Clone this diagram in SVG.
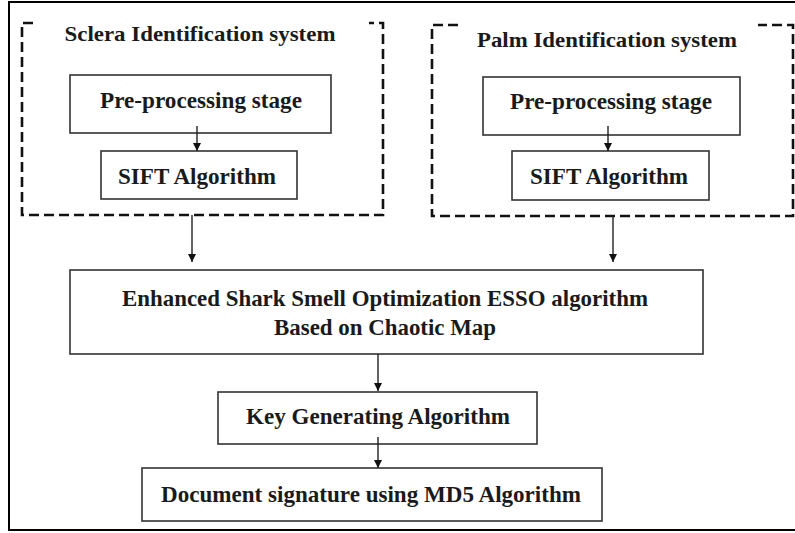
<svg xmlns="http://www.w3.org/2000/svg" width="795" height="533" viewBox="0 0 795 533">
<style>
.frame{fill:none;stroke:#000;stroke-width:2}
.dash{fill:none;stroke:#111;stroke-width:2.6;stroke-dasharray:10 5}
.box{fill:#fff;stroke:#333;stroke-width:1.6}
.t{font-family:"Liberation Serif","Times New Roman",serif;font-weight:bold;fill:#1a1a1a;text-anchor:middle}
.title{font-size:21px}
.lbl{font-size:24px}
.conn{stroke:#222;stroke-width:1.4;fill:none}
</style>
<defs>
<marker id="ah" viewBox="0 0 8 10" refX="8" refY="5" markerWidth="8" markerHeight="10" markerUnits="userSpaceOnUse" orient="auto">
<path d="M0,1 L8,5 L0,9 Z" fill="#111"/>
</marker>
</defs>
<rect x="0" y="0" width="795" height="533" fill="#fff"/>
<rect class="frame" x="9" y="2" width="790" height="528"/>

<g id="sclera-system">
<path class="dash" d="M33,23 H22 V215 H383 V23 H369"/>
<text class="t title" x="200" y="41" textLength="271" lengthAdjust="spacingAndGlyphs">Sclera Identification system</text>
</g>
<g id="sclera-pre">
<rect class="box" x="70" y="75" width="261" height="58"/>
<text class="t lbl" x="201" y="108" textLength="202" lengthAdjust="spacingAndGlyphs">Pre-processing stage</text>
</g>
<g id="sclera-sift">
<rect class="box" x="101" y="151" width="196" height="48"/>
<text class="t lbl" x="197" y="184" textLength="158" lengthAdjust="spacingAndGlyphs">SIFT Algorithm</text>
</g>

<g id="palm-system">
<path class="dash" d="M458,25 H432 V216 H793 V25 H758"/>
<text class="t title" x="607" y="47" textLength="260" lengthAdjust="spacingAndGlyphs">Palm Identification system</text>
</g>
<g id="palm-pre">
<rect class="box" x="483" y="77" width="257" height="58"/>
<text class="t lbl" x="611" y="109" textLength="202" lengthAdjust="spacingAndGlyphs">Pre-processing stage</text>
</g>
<g id="palm-sift">
<rect class="box" x="512" y="151" width="197" height="49"/>
<text class="t lbl" x="609" y="184" textLength="158" lengthAdjust="spacingAndGlyphs">SIFT Algorithm</text>
</g>

<g id="esso">
<rect class="box" x="70" y="270" width="633" height="84"/>
<text class="t lbl" x="385" y="306" textLength="526" lengthAdjust="spacingAndGlyphs">Enhanced Shark Smell Optimization ESSO algorithm</text>
<text class="t lbl" x="385" y="335" textLength="222" lengthAdjust="spacingAndGlyphs">Based on Chaotic Map</text>
</g>
<g id="keygen">
<rect class="box" x="218" y="392" width="319" height="52"/>
<text class="t lbl" x="378" y="424" textLength="264" lengthAdjust="spacingAndGlyphs">Key Generating Algorithm</text>
</g>
<g id="md5">
<rect class="box" x="142" y="468" width="460" height="53"/>
<text class="t lbl" x="371" y="502" textLength="420" lengthAdjust="spacingAndGlyphs">Document signature using MD5 Algorithm</text>
</g>

<g id="connectors">
<line class="conn" x1="197" y1="126" x2="197" y2="151" marker-end="url(#ah)"/>
<line class="conn" x1="608" y1="126" x2="608" y2="151" marker-end="url(#ah)"/>
<line class="conn" x1="192" y1="215" x2="192" y2="262" marker-end="url(#ah)"/>
<line class="conn" x1="613" y1="216" x2="613" y2="262" marker-end="url(#ah)"/>
<line class="conn" x1="378" y1="354" x2="378" y2="391" marker-end="url(#ah)"/>
<line class="conn" x1="378" y1="437" x2="378" y2="468" marker-end="url(#ah)"/>
</g>
</svg>
